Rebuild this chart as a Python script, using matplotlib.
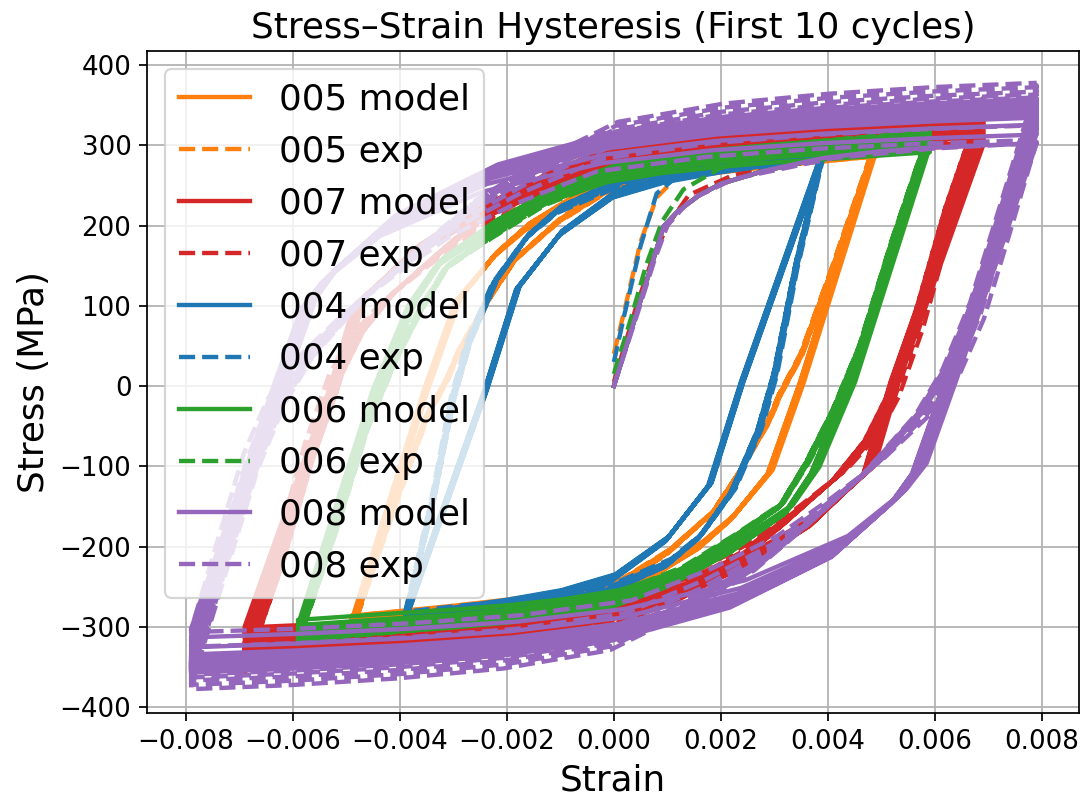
import numpy as np
import matplotlib
matplotlib.use("Agg")
import matplotlib.pyplot as plt

# Elastic modulus (MPa) used to split each branch into elastic and plastic strain
E_MOD = 200000.0

# ---------------- monotonic first loading ----------------
model_init_strain = [0.0, 0.00093, 0.0012, 0.0016, 0.0020, 0.0028, 0.0039, 0.0049, 0.0059, 0.0069, 0.0079]
model_init_stress = [0, 199, 218, 238, 252, 268, 284, 292, 297, 300, 302]

exp_004_init_strain = [0.0, 0.0002, 0.0005, 0.0008, 0.0012, 0.0016, 0.0025, 0.0039]
exp_004_init_stress = [30, 90, 175, 240, 262, 276, 285, 288]
exp_005_init_strain = [0.0, 0.0002, 0.0005, 0.0008, 0.0012, 0.0020, 0.0030, 0.0049]
exp_005_init_stress = [40, 95, 180, 235, 262, 280, 292, 300]
exp_006_init_strain = [0.0, 0.0003, 0.0006, 0.0009, 0.0013, 0.0020, 0.0030, 0.0045, 0.0059]
exp_006_init_stress = [15, 80, 150, 205, 245, 272, 287, 298, 305]
exp_007_init_strain = [0.0, 0.0004, 0.0007, 0.0010, 0.0014, 0.0022, 0.0035, 0.0050, 0.0069]
exp_007_init_stress = [5, 95, 155, 200, 238, 262, 282, 296, 305]
exp_008_init_strain = [0.0, 0.00044, 0.00075, 0.0010, 0.00143, 0.00224, 0.0041, 0.0060, 0.0079]
exp_008_init_stress = [0, 90, 155, 200, 232, 258, 284, 296, 303]

# ---------------- descending half-loop (tension tip -> compression tip) ----------------
model_004_strain = [0.0039, 0.0024, 0.0018, 0.0010, 0.0000, -0.0010, -0.0020, -0.0030, -0.0039]
model_004_stress = [288, 5, -122, -190, -238, -258, -270, -280, -290]
exp_004_strain = [0.0039, 0.0034, 0.0030, 0.0027, 0.0022, 0.0016, 0.0010, 0.0000, -0.0010, -0.0020, -0.0030, -0.0039]
exp_004_stress = [290, 150, 15, -55, -132, -188, -222, -252, -266, -276, -283, -290]

model_005_strain = [0.0049, 0.0035, 0.0029, 0.0022, 0.0016, 0.0008, 0.0000, -0.0010, -0.0020, -0.0030, -0.0040, -0.0049]
model_005_stress = [302, 5, -108, -165, -200, -232, -252, -265, -275, -283, -290, -296]
exp_005_strain = [0.0049, 0.0041, 0.0035, 0.0031, 0.00287, 0.0023, 0.00184, 0.0010, 0.0000, -0.0013, -0.0026, -0.0038, -0.0049]
exp_005_stress = [305, 150, 40, -10, -46, -112, -158, -208, -250, -266, -279, -285, -292]

model_006_strain = [0.0059, 0.0044, 0.0037, 0.0032, 0.0022, 0.0010, 0.0000, -0.0010, -0.0020, -0.0030, -0.0045, -0.0059]
model_006_stress = [318, 5, -108, -158, -205, -248, -272, -284, -292, -298, -305, -312]
exp_006_strain = [0.0059, 0.0052, 0.0046, 0.0041, 0.0036, 0.0031, 0.0022, 0.0012, 0.0000, -0.0015, -0.0030, -0.0045, -0.0059]
exp_006_stress = [318, 180, 50, -30, -95, -150, -192, -235, -268, -285, -297, -306, -314]

model_007_strain = [0.0069, 0.0052, 0.0047, 0.0037, 0.0027, 0.0013, 0.0000, -0.0015, -0.0030, -0.0050, -0.0069]
model_007_stress = [325, 5, -108, -171, -213, -258, -285, -302, -312, -320, -326]
exp_007_strain = [0.0069, 0.0062, 0.0056, 0.0051, 0.0047, 0.0041, 0.0032, 0.0022, 0.0012, 0.0000, -0.0020, -0.0040, -0.0069]
exp_007_stress = [355, 220, 80, -15, -68, -117, -170, -225, -265, -295, -322, -336, -348]

model_008_strain = [0.0079, 0.0062, 0.0056, 0.0052, 0.0041, 0.0022, 0.0000, -0.0020, -0.0040, -0.0060, -0.0079]
model_008_stress = [340, 5, -108, -145, -210, -272, -312, -330, -340, -347, -352]
exp_008_strain = [0.0079, 0.0073, 0.0067, 0.0062, 0.0057, 0.0047, 0.0037, 0.0027, 0.0015, 0.0000, -0.0020, -0.0040, -0.0060, -0.0079]
exp_008_stress = [362, 230, 100, 20, -35, -108, -167, -222, -270, -318, -340, -352, -360, -365]

# ---------------- peak-stress factor of each of the 10 cycles ----------------
model_004_cycle_factor = [0.986, 0.99, 0.995, 1.0, 1.0, 1.005, 1.01, 1.01, 1.015, 1.02]
exp_004_cycle_factor = [0.97, 0.98, 0.99, 0.99, 1.0, 1.0, 1.0, 1.01, 1.01, 1.01]
model_005_cycle_factor = [0.967, 0.98, 0.99, 0.995, 1.0, 1.0, 1.005, 1.01, 1.01, 1.015]
exp_005_cycle_factor = [0.98, 0.985, 0.99, 0.995, 1.0, 1.0, 1.0, 1.005, 1.005, 1.01]
model_006_cycle_factor = [0.934, 0.955, 0.97, 0.98, 0.99, 0.995, 1.0, 1.0, 1.005, 1.01]
exp_006_cycle_factor = [0.96, 0.97, 0.98, 0.99, 0.995, 1.0, 1.0, 1.005, 1.01, 1.01]
model_007_cycle_factor = [0.923, 0.95, 0.965, 0.98, 0.99, 1.0, 1.005, 1.01, 1.015, 1.02]
exp_007_cycle_factor = [0.88, 0.92, 0.95, 0.97, 0.98, 0.99, 1.0, 1.0, 1.01, 1.01]
model_008_cycle_factor = [0.89, 0.925, 0.95, 0.965, 0.98, 0.99, 1.0, 1.005, 1.01, 1.015]
exp_008_cycle_factor = [0.84, 0.89, 0.93, 0.96, 0.975, 0.985, 0.995, 1.005, 1.02, 1.035]

specimens = ["005", "007", "004", "006", "008"]
colors = {"004": "#1f77b4", "005": "#ff7f0e", "006": "#2ca02c",
          "007": "#d62728", "008": "#9467bd"}

g = globals()


def cycle_branch(eps, sig, factor):
    """Scale a half-loop to a new peak stress, keeping the tip strains fixed."""
    eps = np.asarray(eps, float)
    sig = np.asarray(sig, float)
    plastic = eps - sig / E_MOD
    plastic_tip = eps[0] - sig[0] / E_MOD
    k = (eps[0] - factor * sig[0] / E_MOD) / plastic_tip
    sig_c = factor * sig
    eps_c = plastic * k + sig_c / E_MOD
    return eps_c, sig_c


def full_history(init_e, init_s, br_e, br_s, factors):
    """First loading followed by unloading / reloading half-loops."""
    xs = [np.asarray(init_e, float)]
    ys = [np.asarray(init_s, float)]
    for f in factors:
        de, ds = cycle_branch(br_e, br_s, f)
        # descending half, then the point-symmetric ascending half
        xs += [de, -de]
        ys += [ds, -ds]
    return np.concatenate(xs), np.concatenate(ys)


fig = plt.figure(figsize=(1088 / 157, 796 / 157), dpi=157)
ax = fig.add_subplot(111)
fig.subplots_adjust(left=0.1348, right=0.9917, bottom=0.1039, top=0.9363)

m_e = np.asarray(model_init_strain)
m_s = np.asarray(model_init_stress)

for sp in specimens:
    c = colors[sp]
    amp = g[f"model_{sp}_strain"][0]
    keep = m_e <= amp + 1e-9
    x, y = full_history(m_e[keep], m_s[keep],
                        g[f"model_{sp}_strain"], g[f"model_{sp}_stress"],
                        g[f"model_{sp}_cycle_factor"])
    ax.plot(x, y, color=c, lw=2, ls="-", label=f"{sp} model")
    x, y = full_history(g[f"exp_{sp}_init_strain"], g[f"exp_{sp}_init_stress"],
                        g[f"exp_{sp}_strain"], g[f"exp_{sp}_stress"],
                        g[f"exp_{sp}_cycle_factor"])
    ax.plot(x, y, color=c, lw=2, ls="--", label=f"{sp} exp")

ax.set_xlim(-0.00873, 0.00869)
ax.set_ylim(-407.8, 417.8)
ax.set_xticks(np.arange(-0.008, 0.0081, 0.002))
ax.set_yticks(np.arange(-400, 401, 100))
ax.tick_params(labelsize=12)
ax.grid(True)
ax.set_xlabel("Strain", fontsize=16.4)
ax.set_ylabel("Stress (MPa)", fontsize=16.4)
ax.set_title("Stress\u2013Strain Hysteresis (First 10 cycles)", fontsize=16.4)
ax.legend(loc="upper left", fontsize=16.4)

fig.savefig("out.png", dpi=157)
